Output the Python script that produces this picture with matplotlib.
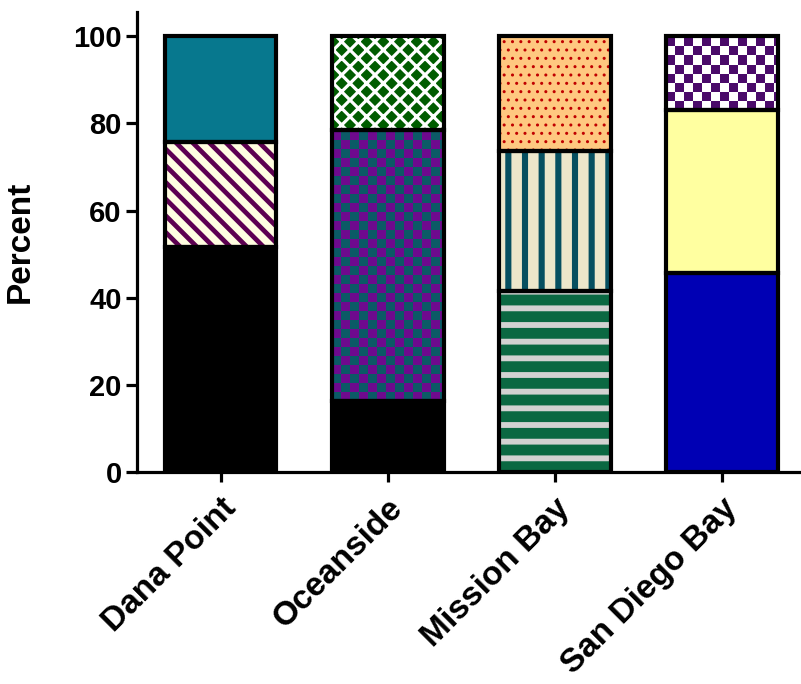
import numpy as np
import matplotlib
matplotlib.use("Agg")
import matplotlib.pyplot as plt
from matplotlib import transforms

plt.rcParams['font.family'] = ['Liberation Sans', 'DejaVu Sans']
plt.rcParams['font.weight'] = 'bold'

sites = ["Dana Point", "Oceanside", "Mission Bay", "San Diego Bay"]
# percent of each segment, bottom to top
dana = [51.6, 24.1, 24.3]
oceanside = [16.2, 62.3, 21.5]
mission = [41.5, 32.1, 26.4]
sandiego = [45.6, 37.4, 17.0]
stacks = [dana, oceanside, mission, sandiego]

# style per segment: (kind, face, pattern colour, hatch, hatch lw)
styles = [
    [("solid", "#000000", None, None, 0),
     ("hatch", "#fffde0", "#5c0050", "\\\\", 3.4),
     ("solid", "#07788e", None, None, 0)],
    [("solid", "#000000", None, None, 0),
     ("check", "#0b5a66", "#6e0a8e", None, 0),
     ("hatch", "#005c00", "#ffffff", "xx", 2.3)],
    [("hatch", "#0a6842", "#d2d2d2", "-", 4.2),
     ("hatch", "#ece6ca", "#064f60", "|", 4.4),
     ("hatch", "#ffc880", "#c00000", "..", 1.0)],
    [("solid", "#0000b4", None, None, 0),
     ("solid", "#ffffa0", None, None, 0),
     ("check", "#ffffff", "#4a0a6a", None, 0)],
]

fig = plt.figure(figsize=(8.01, 6.84), dpi=100)
ax = fig.add_axes([0.171, 0.31, 0.828, 0.672])

x = np.arange(len(sites))
width = 0.67
sq_x = 0.054   # checker square in data units
sq_y = 2.06

for i in range(len(sites)):
    bottom = 0
    for val, st in zip(stacks[i], styles[i]):
        kind, face, pcol, hatch, hlw = st
        if kind == "solid":
            ax.bar(x[i], val, width, bottom=bottom, color=face, linewidth=0, zorder=2)
        elif kind == "hatch":
            with plt.rc_context({'hatch.linewidth': hlw}):
                b = ax.bar(x[i], val, width, bottom=bottom, facecolor=face,
                           edgecolor=pcol, hatch=hatch, linewidth=0, zorder=2)
            for p in b:
                if hasattr(p, "set_hatch_linewidth"):
                    p.set_hatch_linewidth(hlw)
        else:
            b = ax.bar(x[i], val, width, bottom=bottom, color=face, linewidth=0, zorder=2)
            x0 = x[i] - width / 2
            nx = int(np.ceil(width / sq_x))
            ny = int(np.ceil(val / sq_y))
            grid = (np.add.outer(np.arange(ny), np.arange(nx)) % 2).astype(float)
            cmap = matplotlib.colors.ListedColormap([face, pcol])
            im = ax.imshow(grid, cmap=cmap, interpolation="nearest", aspect="auto",
                           origin="lower",
                           extent=(x0, x0 + nx * sq_x, bottom, bottom + ny * sq_y),
                           zorder=2.5)
            im.set_clip_path(b[0])
        # outline
        ax.bar(x[i], val, width, bottom=bottom, fill=False, edgecolor="black",
               linewidth=3, zorder=3)
        bottom += val

ax.set_xlim(-0.5, 3.47)
ax.set_ylim(0, 105.5)
ax.set_yticks([0, 20, 40, 60, 80, 100])
ax.set_xticks(x)
ax.set_xticklabels(sites, rotation=45, ha="right", va="top", rotation_mode="anchor")
shift = transforms.ScaledTranslation(-7 / 72, 0, fig.dpi_scale_trans)
for lbl in ax.get_xticklabels():
    lbl.set_transform(lbl.get_transform() + shift)
for sp in ["top", "right"]:
    ax.spines[sp].set_visible(False)
for sp in ["left", "bottom"]:
    ax.spines[sp].set_linewidth(2.3)
ax.tick_params(axis="y", length=8, width=2.3, labelsize=21, pad=3)
ax.tick_params(axis="x", length=7, width=2.3, labelsize=24, pad=8)
ax.set_ylabel("Percent", fontsize=24, fontweight="bold", labelpad=27)

fig.savefig("out.png", dpi=100)
